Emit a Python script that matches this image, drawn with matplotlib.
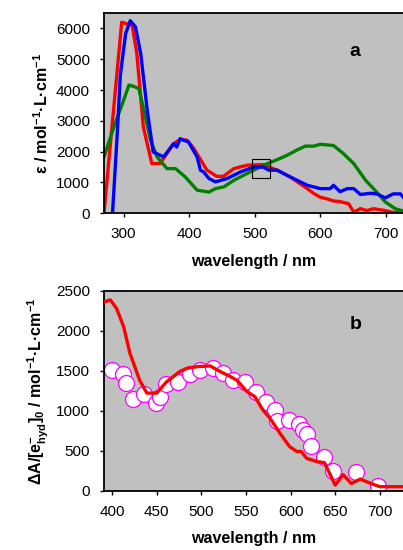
import matplotlib
matplotlib.use('Agg')
import matplotlib.pyplot as plt
from matplotlib.patches import Rectangle

plt.rcParams['font.family'] = ['Liberation Sans', 'DejaVu Sans']
plt.rcParams['mathtext.fontset'] = 'custom'
plt.rcParams['mathtext.rm'] = 'Liberation Sans'
plt.rcParams['mathtext.bf'] = 'Liberation Sans:bold'
plt.rcParams['mathtext.it'] = 'Liberation Sans:italic'

# panel a: absorption spectra
red_x = [270, 283, 297, 305, 313, 320, 330, 343, 356, 366, 376, 386, 397, 407, 417, 427, 442, 452,
         468, 488, 513, 534, 554, 569, 580, 590, 600, 610, 620, 630, 643, 651, 661, 671, 681, 696, 711, 726]
red_y = [0, 3000, 6200, 6150, 6100, 5200, 2800, 1610, 1620, 1950, 2250, 2400, 2370, 2100, 1750, 1400, 1200, 1200,
         1450, 1560, 1580, 1400, 1180, 960, 800, 640, 520, 470, 400, 380, 310, 40, 150, 90, 150, 100, 30, 30]

blue_x = [283, 290, 295, 303, 310, 318, 326, 336, 345, 361, 376, 381, 386, 399, 412, 417, 422, 430, 440,
          458, 478, 498, 513, 521, 534, 554, 580, 600, 615, 620, 630, 641, 651, 661, 676, 686, 699, 711, 722, 726]
blue_y = [0, 2500, 4500, 5830, 6250, 6050, 5180, 3340, 1990, 1830, 2260, 2150, 2420, 2310, 1830, 1400, 1340, 1130, 1020,
          1130, 1340, 1500, 1500, 1400, 1400, 1180, 910, 800, 800, 910, 700, 800, 800, 610, 650, 630, 500, 630, 630, 530]

green_x = [270, 285, 300, 308, 315, 323, 331, 341, 351, 366, 379, 394, 412, 430, 440, 453, 468, 488, 503,
           519, 534, 549, 564, 577, 590, 600, 620, 635, 651, 669, 681, 699, 714, 726]
green_y = [1830, 2800, 3670, 4160, 4120, 4050, 3340, 2370, 1830, 1450, 1450, 1180, 750, 690, 800, 860, 1070, 1290, 1450,
           1610, 1740, 1880, 2050, 2180, 2180, 2240, 2200, 1940, 1610, 1070, 800, 370, 150, 75]

# panel b: transient absorption vs spectrum
line_x = [391, 398, 405, 413, 420, 431, 439, 450, 461, 476, 484, 495, 510, 521, 532, 540, 551, 560, 569,
          577, 588, 599, 607, 612, 618, 629, 638, 650, 659, 668, 678, 689, 700, 726]
line_y = [2360, 2385, 2280, 2050, 1720, 1380, 1220, 1220, 1360, 1490, 1530, 1550, 1560, 1490, 1430, 1380, 1240, 1175, 1010,
          905, 720, 550, 490, 490, 405, 365, 350, 70, 200, 90, 145, 95, 50, 50]

dot_x = [400, 412, 416, 424, 436, 449, 454, 461, 474, 487, 499, 513, 524, 535, 549, 561, 573, 583, 585,
         598, 609, 614, 618, 623, 637, 648, 673, 698]
dot_y = [1510, 1455, 1350, 1145, 1210, 1095, 1175, 1340, 1365, 1465, 1510, 1530, 1475, 1385, 1360, 1235, 1115, 1015, 870,
         890, 835, 765, 715, 560, 425, 250, 230, 60]

fig = plt.figure(figsize=(4.03, 5.5), dpi=100)
axa = fig.add_axes([104/403, 1-213.3/550, 1-104/403, 200.3/550])
axb = fig.add_axes([104/403, 1-490.7/550, 1-104/403, 200/550])

for ax in (axa, axb):
    ax.set_facecolor('#c0c0c0')
    ax.spines['right'].set_visible(False)
    for s in ('left', 'bottom', 'top'):
        ax.spines[s].set_linewidth(1.3)
    ax.tick_params(direction='out', length=3, width=1, labelsize=11, pad=7)

axa.plot(red_x, red_y, color='#ff0000', lw=2.4)
axa.plot(green_x, green_y, color='#008000', lw=2.4)
axa.plot(blue_x, blue_y, color='#0000ff', lw=2.4)
axa.add_patch(Rectangle((496, 1140), 27, 610, fill=False, edgecolor='black', lw=0.8, zorder=5))
axa.set_xlim(270, 726)
axa.set_ylim(0, 6500)
axa.set_xticks([300, 400, 500, 600, 700])
axa.set_yticks([0, 1000, 2000, 3000, 4000, 5000, 6000])
axa.set_xlabel('wavelength / nm', fontsize=11.5, fontweight='bold', labelpad=9)
axa.set_ylabel(r'ε / mol$^{\mathbf{-1}}$·L·cm$^{\mathbf{-1}}$', fontsize=11.5, fontweight='bold')
axa.text(0.84, 0.81, 'a', transform=axa.transAxes, fontsize=14, fontweight='bold', ha='center', va='center')

axb.plot(dot_x, dot_y, 'o', ms=11.5, mfc='white', mec='#ff00ff', mew=0.9, zorder=2)
axb.plot(line_x, line_y, color='#ff0000', lw=2.4, zorder=3)
axb.set_xlim(391, 726)
axb.set_ylim(0, 2500)
axb.set_xticks([400, 450, 500, 550, 600, 650, 700])
axb.set_yticks([0, 500, 1000, 1500, 2000, 2500])
axb.set_xlabel('wavelength / nm', fontsize=11.5, fontweight='bold', labelpad=9)
axb.set_ylabel(r'ΔA/[e$^{\mathbf{-}}_{\mathbf{hyd}}$]$_{\mathbf{0}}$ / mol$^{\mathbf{-1}}$·L·cm$^{\mathbf{-1}}$',
               fontsize=11.5, fontweight='bold')
axb.text(0.84, 0.83, 'b', transform=axb.transAxes, fontsize=14, fontweight='bold', ha='center', va='center')

fig.savefig('out.png', dpi=100)
